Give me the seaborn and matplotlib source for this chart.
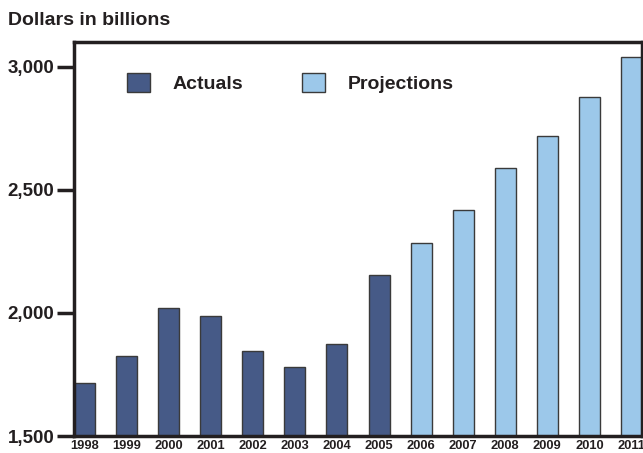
import matplotlib
matplotlib.use("Agg")
import matplotlib.pyplot as plt
import seaborn as sns
import pandas as pd
from matplotlib.patches import Patch

years = ["1998", "1999", "2000", "2001", "2002", "2003", "2004", "2005",
         "2006", "2007", "2008", "2009", "2010", "2011"]
values = [1715, 1824, 2019, 1986, 1845, 1780, 1873, 2153,
          2282, 2416, 2590, 2720, 2878, 3040]
kinds = ["Actuals"] * 8 + ["Projections"] * 6
yticks = [1500, 2000, 2500, 3000]
ytick_labels = ["1,500", "2,000", "2,500", "3,000"]

dark = "#465a87"
light = "#9cc8ea"

sns.set_style("white")
plt.rcParams["font.family"] = ["Liberation Sans", "DejaVu Sans"]
plt.rcParams["font.weight"] = "bold"

df = pd.DataFrame({"year": years, "value": values, "kind": kinds})

fig = plt.figure(figsize=(6.43, 4.53), dpi=100)
ax = fig.add_axes([74 / 643, 17 / 453, 568 / 643, 394 / 453])

sns.barplot(data=df, x="year", y="value", hue="kind", dodge=False,
            palette={"Actuals": dark, "Projections": light}, saturation=1,
            width=0.5, edgecolor="#3a3a3a", linewidth=1.0, ax=ax, legend=False)

ax.set_ylim(1500, 3100)
ax.set_xlim(-0.25, 13.25)
ax.set_yticks(yticks)
ax.set_yticklabels(ytick_labels, fontsize=13.5, fontweight="bold", color="#231f20")
ax.tick_params(axis="y", direction="out", length=12, width=2.5, color="#231f20",
               pad=2, left=True)
ax.tick_params(axis="x", length=0, pad=3, labelsize=9.3, labelcolor="#231f20")
for lab in ax.get_xticklabels():
    lab.set_fontweight("bold")
ax.set_xlabel("")
ax.set_ylabel("")

for s in ["left", "right", "top", "bottom"]:
    ax.spines[s].set_visible(True)
    ax.spines[s].set_color("#231f20")
    ax.spines[s].set_linewidth(2.5)

fig.text(8 / 643, 1 - 20.5 / 453, "Dollars in billions", fontsize=14,
         fontweight="bold", color="#231f20", va="center", ha="left")

handles = [Patch(facecolor=dark, edgecolor="#3a3a3a", linewidth=1.0, label="Actuals"),
           Patch(facecolor=light, edgecolor="#3a3a3a", linewidth=1.0, label="Projections")]
leg = ax.legend(handles=handles, loc="upper left", bbox_to_anchor=(0.093, 0.922),
                ncol=2, frameon=False, fontsize=14, handlelength=1.18,
                handleheight=1.18, handletextpad=1.18, columnspacing=3.0,
                borderpad=0, borderaxespad=0)
for t in leg.get_texts():
    t.set_fontweight("bold")
    t.set_color("#231f20")

fig.savefig("out.png", dpi=100)
